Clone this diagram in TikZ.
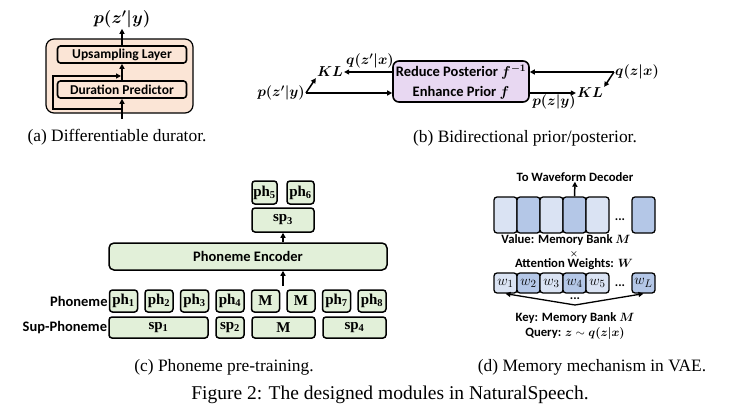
\documentclass[tikz,border=0pt]{standalone}
\usepackage{amsmath}
\usepackage{fontspec}
\setmainfont{Liberation Serif}
\newfontfamily\labelfont{Carlito}
\usetikzlibrary{arrows.meta}

\definecolor{peach}{HTML}{FBE5D6}
\definecolor{lavender}{HTML}{E8D8F2}
\definecolor{lgreen}{HTML}{E2F0D9}
\definecolor{lblue}{HTML}{DAE3F3}
\definecolor{dblue}{HTML}{B4C7E7}

\newcommand{\phlab}[1]{\textbf{ph}$_{\mathbf{#1}}$}
\newcommand{\splab}[1]{\textbf{sp}$_{\mathbf{#1}}$}

\tikzset{
  lbl/.style={font=\fontsize{13.5}{16}\labelfont\bfseries, inner sep=1pt},
  biglbl/.style={lbl, font=\fontsize{14.5}{17}\labelfont\bfseries},
  memlbl/.style={font=\fontsize{12.7}{14}\labelfont\bfseries, inner sep=0pt},
  mlbl/.style={font=\fontsize{16.5}{18}\selectfont, inner sep=1pt},
  klbl/.style={font=\fontsize{14}{16}\selectfont, inner sep=1pt},
  subcap/.style={font=\fontsize{17.4}{20}\selectfont},
  arr/.style={->, line width=1.5pt},
  durbox/.style={lbl, draw, line width=1.6pt, rounded corners=3pt, fill=peach,
    minimum width=129pt, minimum height=17pt},
  phbox/.style={draw, line width=1.5pt, rounded corners=3pt, fill=lgreen,
    minimum width=28pt, minimum height=22pt, inner sep=0pt,
    font=\fontsize{15}{17}\selectfont},
  memlight/.style={draw, line width=1.3pt, rounded corners=3pt, fill=lblue,
    minimum width=23pt, inner sep=0pt, font=\fontsize{15}{17}\selectfont},
  memdark/.style={memlight, fill=dblue},
}

\begin{document}
\begin{tikzpicture}[x=1pt, y=-1pt, >={Triangle[length=5pt,width=5pt]}]
    \useasboundingbox (0,0) rectangle (745,410);

    % (a) differentiable durator
    \draw[line width=1.2pt, rounded corners=8pt, fill=peach] (46,39) rectangle (193,113);
    \node[durbox] (ups) at (122,54.5) {Upsampling Layer};
    \node[durbox] (dur) at (122,89.5) {Duration Predictor};
    \node[mlbl] (pzya) at (122,19) {$\boldsymbol{p(z'|y)}$};
    \coordinate (ain) at (122,119);
    \coordinate (sk1) at (122,109);
    \coordinate (sk2) at (53,76);
    \coordinate (sk3) at (121,76);
    \draw[arr] (ain) -- (dur);
    \draw[arr] (dur) -- (ups);
    \draw[arr] (ups) -- (pzya);
    \draw[arr, line width=1.3pt] (sk1) -| (sk2) -- (sk3);
    \node[subcap] (capa) at (117,137) {(a) Differentiable durator.};

    % (b) bidirectional prior/posterior
    \node[draw, line width=1.6pt, rounded corners=6pt, fill=lavender,
      minimum width=136pt, minimum height=41pt] (bi) at (461,81.5) {};
    \node[biglbl] (red) at (461,72) {Reduce Posterior $\boldsymbol{f^{-1}}$};
    \node[biglbl] (enh) at (461,93) {Enhance Prior $\boldsymbol{f}$};
    \node[klbl] (pzyb) at (281,93) {$\boldsymbol{p(z'|y)}$};
    \node[klbl] (kla) at (330,72) {$\boldsymbol{KL}$};
    \node[klbl] (qzxa) at (370,61) {$\boldsymbol{q(z'|x)}$};
    \node[klbl] (qzxb) at (637,72) {$\boldsymbol{q(z|x)}$};
    \node[klbl] (klb) at (590,93) {$\boldsymbol{KL}$};
    \node[klbl] (pzb) at (554,102) {$\boldsymbol{p(z|y)}$};
    \draw[arr] (pzyb.east) -- (pzyb.east -| bi.west);
    \draw[arr] (pzyb.east) -- (kla.south west);
    \draw[arr] (bi.west |- kla) -- (kla.east);
    \draw[arr] (qzxb.west) -- (qzxb.west -| bi.east);
    \draw[arr] (qzxb.west) -- (klb.north east);
    \draw[arr] (bi.east |- klb) -- (klb.west);
    \node[subcap] (capb) at (525,138) {(b) Bidirectional prior/posterior.};

    % (c) phoneme pre-training
    \node[phbox] (ph1) at (123.5,301) {\phlab{1}};
    \node[phbox] (ph2) at (159,301) {\phlab{2}};
    \node[phbox] (ph3) at (194.5,301) {\phlab{3}};
    \node[phbox] (ph4) at (230,301) {\phlab{4}};
    \node[phbox] (mk1) at (265.5,301) {\textbf{M}};
    \node[phbox] (mk2) at (301,301) {\textbf{M}};
    \node[phbox] (ph7) at (336.5,301) {\phlab{7}};
    \node[phbox] (ph8) at (372,301) {\phlab{8}};
    \node[phbox, minimum width=99pt, minimum height=21pt] (sp1) at (158.5,327.5) {\splab{1}};
    \node[phbox, minimum height=21pt] (sp2) at (230,327.5) {\splab{2}};
    \node[phbox, minimum width=63pt, minimum height=21pt] (spm) at (283.5,327.5) {\textbf{M}};
    \node[phbox, minimum width=63pt, minimum height=21pt] (sp4) at (354.5,327.5) {\splab{4}};
    \node[biglbl, anchor=east] (phtag) at (ph1.west) {Phoneme};
    \node[biglbl, anchor=east] (sptag) at (sp1.west) {Sup-Phoneme};
    \node[phbox, biglbl, minimum width=278pt, minimum height=27pt, rounded corners=5pt] (enc) at (248,256.5) {Phoneme Encoder};
    \node[phbox, minimum width=62pt, minimum height=24pt] (sp3) at (283,220) {\splab{3}};
    \node[phbox, minimum width=25pt, minimum height=23pt] (ph5) at (264.5,192.5) {\phlab{5}};
    \node[phbox, minimum width=27pt, minimum height=23pt] (ph6) at (300.5,192.5) {\phlab{6}};
    \coordinate (encin) at (283,286);
    \draw[arr] (encin) -- (encin |- enc.south);
    \draw[arr] (enc.north -| sp3) -- (sp3.south);
    \node[subcap] (capc) at (224,367) {(c) Phoneme pre-training.};

    % (d) memory mechanism
    \node[memlight, minimum height=36pt] (v1) at (505.5,215) {};
    \node[memdark, minimum height=36pt] (v2) at (528.5,215) {};
    \node[memlight, minimum height=36pt] (v3) at (551.5,215) {};
    \node[memdark, minimum height=36pt] (v4) at (574.5,215) {};
    \node[memlight, minimum height=36pt] (v5) at (597.5,215) {};
    \node[memdark, minimum height=36pt] (vl) at (643.5,215) {};
    \node[memlbl] (vdots) at (620,220) {...};
    \node[memlight, minimum height=20pt] (w1) at (505.5,283) {$w_1$};
    \node[memdark, minimum height=20pt] (w2) at (528.5,283) {$w_2$};
    \node[memlight, minimum height=20pt] (w3) at (551.5,283) {$w_3$};
    \node[memdark, minimum height=20pt] (w4) at (574.5,283) {$w_4$};
    \node[memlight, minimum height=20pt] (w5) at (597.5,283) {$w_5$};
    \node[memdark, minimum height=20pt] (wl) at (643.5,283) {$w_L$};
    \node[memlbl] (wdots) at (620,286) {...};
    \node[memlbl] (dec) at (575,177) {To Waveform Decoder};
    \node[memlbl] (val) at (566,240.5) {Value: Memory Bank $\boldsymbol{M}$};
    \node[memlbl, font=\fontsize{9}{9}\selectfont] (times) at (574,254.5) {$\boldsymbol{\times}$};
    \node[memlbl] (att) at (574,264) {Attention Weights: $\boldsymbol{W}$};
    \node[memlbl] (kdots) at (575,299) {...};
    \node[memlbl] (key) at (575,318) {Key: Memory Bank $\boldsymbol{M}$};
    \node[memlbl] (qry) at (575,333) {Query: $\boldsymbol{z}\sim\boldsymbol{q(z|x)}$};
    \coordinate (kq) at (575,305);
    \draw[arr] (v4.north) -- (dec.south);
    \draw[arr, line width=1.3pt] (kq) -- (w1.south);
    \draw[arr, line width=1.3pt] (kq) -- (wl.south);
    \node[subcap] (capd) at (592,367) {(d) Memory mechanism in VAE.};

    \node[font=\fontsize{19.5}{23}\selectfont] (fig) at (390,395) {Figure 2: The designed modules in NaturalSpeech.};
\end{tikzpicture}
\end{document}
